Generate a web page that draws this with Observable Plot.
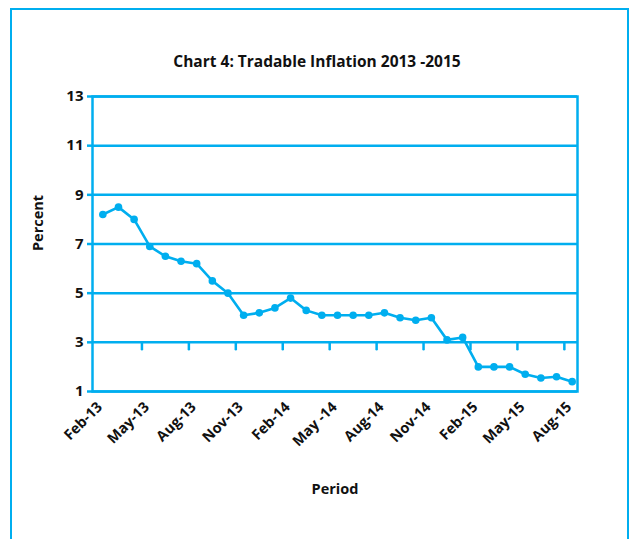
<!DOCTYPE html>
<html><head><meta charset="utf-8">
<script src="https://cdn.jsdelivr.net/npm/d3@7"></script>
<script src="https://cdn.jsdelivr.net/npm/@observablehq/plot@0.6"></script>
<style>
body{margin:0;background:#fff;}
#wrap{position:relative;width:630px;height:539px;overflow:hidden;font-family:"Open Sans",sans-serif;background:#fff;}
#border{position:absolute;left:10px;top:8px;width:619px;height:600px;border:2.5px solid #00AEEF;box-sizing:border-box;}
#title{position:absolute;left:0;width:634px;top:51px;text-align:center;font-weight:bold;font-size:15.5px;line-height:20px;color:#111;}
#chart{position:absolute;left:0;top:0;}
</style></head>
<body><div id="wrap"><div id="border"></div><div id="title">Chart 4: Tradable Inflation 2013 -2015</div><div id="chart"></div></div>
<script>
const months = ["Feb-13","Mar-13","Apr-13","May-13","Jun-13","Jul-13","Aug-13","Sep-13","Oct-13","Nov-13","Dec-13","Jan-14",
  "Feb-14","Mar-14","Apr-14","May-14","Jun-14","Jul-14","Aug-14","Sep-14","Oct-14","Nov-14","Dec-14","Jan-15",
  "Feb-15","Mar-15","Apr-15","May-15","Jun-15","Jul-15","Aug-15"];
const values = [8.2,8.5,8.0,6.9,6.5,6.3,6.2,5.5,5.0,4.1,4.2,4.4,
  4.8,4.3,4.1,4.1,4.1,4.1,4.2,4.0,3.9,4.0,3.1,3.2,
  2.0,2.0,2.0,1.7,1.55,1.6,1.4];
const xTickLabels = ["Feb-13","May-13","Aug-13","Nov-13","Feb-14","May -14","Aug-14","Nov-14","Feb-15","May-15","Aug-15"];
const yTicks = [1,3,5,7,9,11,13];
const axisCross = 3;
const yLabel = "Percent";
const xLabel = "Period";

const blue = "#00AEEF";
const data = months.map((m, i) => ({month: m, i, value: values[i]}));
const tickIdx = months.map((m, i) => i).filter(i => i % 3 === 0);
const boundaries = tickIdx.slice(1).map(i => i - 0.5);
const tickShape = {draw(context, l) { context.moveTo(0, 0); context.lineTo(0, -l); }};
const font = "'Open Sans', sans-serif";

const chart = Plot.plot({
  width: 630, height: 539,
  marginLeft: 92, marginRight: 53, marginTop: 96, marginBottom: 148,
  style: {fontFamily: font, background: "transparent", color: "#111"},
  x: {type: "linear", domain: [-0.66, 30.34]},
  y: {domain: [1, 13]},
  marks: [
    Plot.gridY(yTicks, {stroke: blue, strokeOpacity: 1, strokeWidth: 2.5}),
    Plot.frame({stroke: blue, strokeWidth: 2.5}),
    Plot.axisY({ticks: yTicks, tickSize: 5, tickPadding: 4, stroke: blue, strokeWidth: 2.5, fill: "#111",
      fontWeight: "bold", fontSize: 15, label: null}),
    Plot.axisX({ticks: tickIdx, tickFormat: i => xTickLabels[i / 3], tickRotate: -45, tickSize: 0, tickPadding: 13,
      dx: -3, fontWeight: "bold", fontSize: 14.5, fill: "#111", label: null}),
    Plot.vector(boundaries, {x: d => d, y: () => axisCross, length: 7, rotate: 180, anchor: "start",
      shape: tickShape, stroke: blue, strokeWidth: 2.5}),
    Plot.line(data, {x: "i", y: "value", stroke: blue, strokeWidth: 2.6}),
    Plot.dot(data, {x: "i", y: "value", r: 3.8, fill: blue}),
    Plot.text([yLabel], {text: d => d, frameAnchor: "left", dx: -54, dy: 7, rotate: -90,
      fontWeight: "bold", fontSize: 14.5, fill: "#111"}),
    Plot.text([xLabel], {text: d => d, frameAnchor: "bottom", dy: 102,
      fontWeight: "bold", fontSize: 14.5, fill: "#111"})
  ]
});
document.getElementById("chart").appendChild(chart);
</script>
</body></html>
